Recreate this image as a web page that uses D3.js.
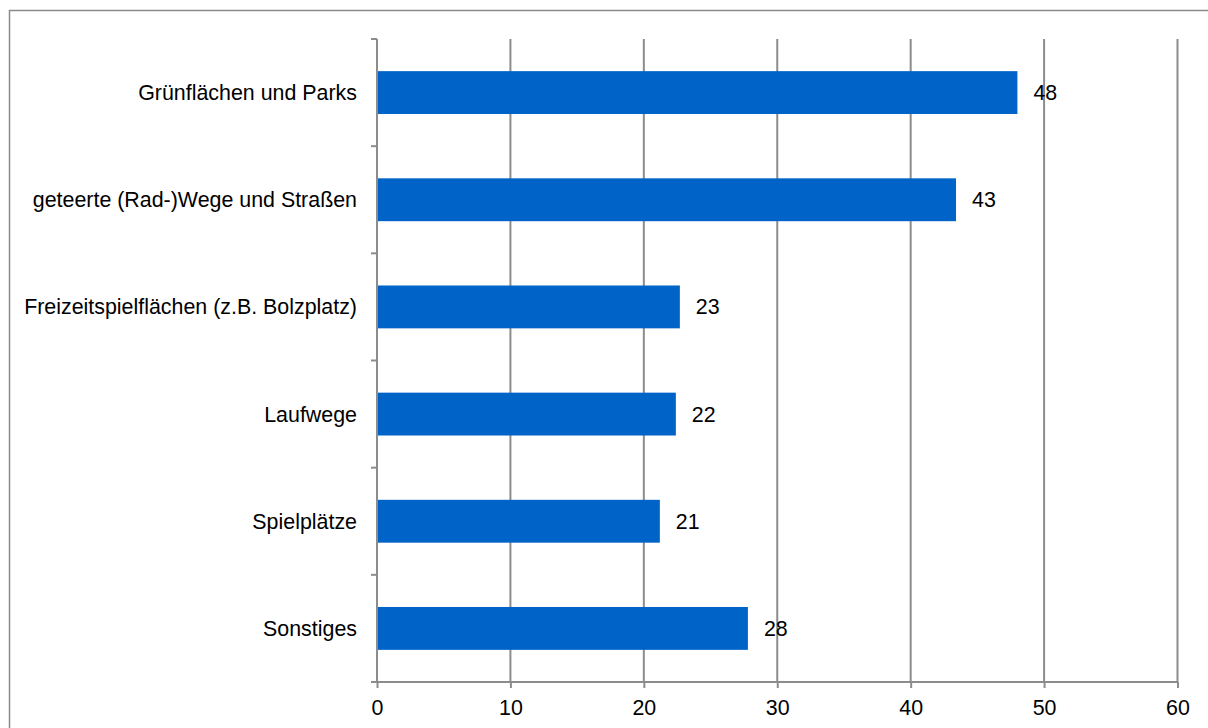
<!DOCTYPE html>
<html>
<head>
<meta charset="utf-8">
<script src="https://cdn.jsdelivr.net/npm/d3@7"></script>
<style>
  html, body { margin: 0; padding: 0; background: #fff; }
  svg { display: block; font-family: "Liberation Sans", Arial, sans-serif; }
</style>
</head>
<body>
<svg id="chart" width="1208" height="728"></svg>
<script>
// Nutzungsorte – Anteile je Kategorie
const categories = [
  "Grünflächen und Parks",
  "geteerte (Rad-)Wege und Straßen",
  "Freizeitspielflächen (z.B. Bolzplatz)",
  "Laufwege",
  "Spielplätze",
  "Sonstiges"
];
const values = [48.0, 43.4, 22.7, 22.4, 21.2, 27.8];
const xTicks = [0, 10, 20, 30, 40, 50, 60];

const svg = d3.select("#chart");
const margin = { left: 377, top: 39 };
const plotRight = 1177.5;
const plotBottom = 682;

const gray = "#8c8c8c";
const fontSize = 21.4;

// outer chart frame (extends past the viewport on the right and bottom)
svg.append("rect")
  .attr("x", 9.5).attr("y", 10.5)
  .attr("width", 1400).attr("height", 900)
  .attr("fill", "none")
  .attr("stroke", "#8a8a8a")
  .attr("stroke-width", 1.5);

const x = d3.scaleLinear().domain([0, 60]).range([margin.left, plotRight]);
const y = d3.scaleBand().domain(categories).range([margin.top, plotBottom]).paddingInner(0.6).paddingOuter(0.3);
const yBand = d3.scaleBand().domain(categories).range([margin.top, plotBottom]);

// vertical gridlines
svg.append("g")
  .selectAll("line")
  .data(xTicks.filter(d => d > 0))
  .join("line")
  .attr("x1", d => x(d)).attr("x2", d => x(d))
  .attr("y1", margin.top).attr("y2", plotBottom)
  .attr("stroke", gray).attr("stroke-width", 2);

// bars
svg.append("g")
  .selectAll("rect")
  .data(values)
  .join("rect")
  .attr("x", x(0))
  .attr("y", (d, i) => y(categories[i]))
  .attr("width", d => x(d) - x(0))
  .attr("height", y.bandwidth())
  .attr("fill", "#0063c8");

// value labels
svg.append("g")
  .selectAll("text")
  .data(values)
  .join("text")
  .attr("x", d => x(d) + 16)
  .attr("y", (d, i) => y(categories[i]) + y.bandwidth() / 2 + 7.5)
  .attr("font-size", fontSize)
  .attr("fill", "#000")
  .text(d => d3.format(".0f")(d));

// x axis
const xAxis = d3.axisBottom(x).tickValues(xTicks).tickSize(6).tickPadding(12).tickSizeOuter(0);
const gx = svg.append("g").attr("transform", `translate(0,${plotBottom})`).call(xAxis);
gx.select(".domain").attr("stroke", gray).attr("stroke-width", 2)
  .attr("d", `M${x(0) - 6},0H${plotRight}`);
gx.selectAll(".tick line").attr("stroke", gray).attr("stroke-width", 2);
gx.selectAll(".tick text").attr("font-size", fontSize).attr("fill", "#000")
  .attr("font-family", "Liberation Sans, Arial, sans-serif");

// y axis: line with ticks on band boundaries
const gy = svg.append("g");
gy.append("line")
  .attr("x1", x(0)).attr("x2", x(0))
  .attr("y1", margin.top).attr("y2", plotBottom)
  .attr("stroke", gray).attr("stroke-width", 2);
const boundaries = categories.map(c => yBand(c));
gy.selectAll(".ytick")
  .data(boundaries)
  .join("line")
  .attr("class", "ytick")
  .attr("x1", x(0) - 6).attr("x2", x(0))
  .attr("y1", d => d).attr("y2", d => d)
  .attr("stroke", gray).attr("stroke-width", 2);

// category labels
gy.selectAll(".ylab")
  .data(categories)
  .join("text")
  .attr("class", "ylab")
  .attr("x", x(0) - 20)
  .attr("y", c => yBand(c) + yBand.bandwidth() / 2 + 7.5)
  .attr("text-anchor", "end")
  .attr("font-size", fontSize)
  .attr("fill", "#000")
  .text(c => c);
</script>
</body>
</html>
